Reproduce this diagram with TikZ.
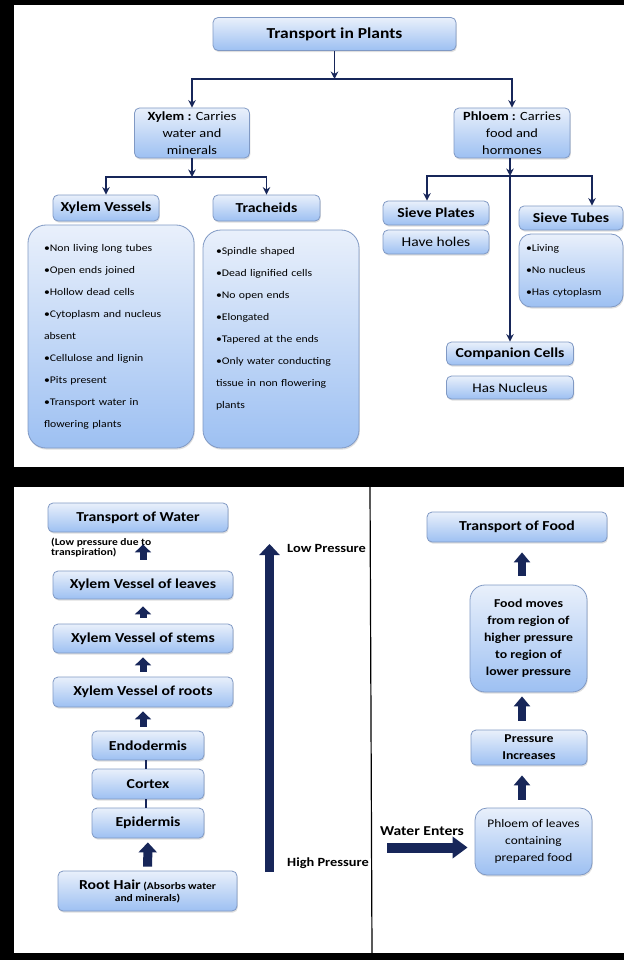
\documentclass[tikz,border=0pt]{standalone}
\usepackage{fontspec}
\setmainfont[FakeStretch=1.15]{Carlito}
\usetikzlibrary{arrows.meta,shadows}

\definecolor{arrowblue}{HTML}{172659}
\definecolor{boxtop}{HTML}{E9F0FB}
\definecolor{boxbot}{HTML}{9DC0F2}
\definecolor{boxline}{HTML}{8099C4}

\tikzset{
  box/.style={draw=boxline, line width=0.8pt, rounded corners=5pt,
    top color=boxtop, bottom color=boxbot, align=center, inner sep=2pt,
    drop shadow={opacity=0.25, shadow xshift=0.8pt, shadow yshift=-1.6pt}},
  listbox/.style={box, rounded corners=18pt, align=left},
  hd/.style={font=\bfseries\fontsize{13.7}{16}\selectfont},
  small/.style={font=\fontsize{12.5}{17}\selectfont},
  items/.style={font=\fontsize{10.2}{22}\selectfont},
  link/.style={draw=arrowblue, line width=1.7pt, -{Stealth[length=7.5pt,width=7.5pt]}},
  blk/.style={draw=arrowblue, line width=7pt, -{Triangle[length=8pt,width=16pt]}},
  rootblk/.style={draw=arrowblue, line width=9pt, -{Triangle[length=10pt,width=18pt]}},
  rblk/.style={draw=arrowblue, line width=8pt, -{Triangle[length=10pt,width=16pt]}},
  lbl/.style={font=\bfseries\fontsize{12.5}{14}\selectfont, inner sep=0pt}
}

\begin{document}
\begin{tikzpicture}[x=1pt,y=-1pt]
  % panels
  \fill[black] (0,0) rectangle (624,960);
  \fill[white] (14,5) rectangle (624,467);
  \fill[white] (14,487) rectangle (624,953);
  \draw[black, line width=1.2pt] (370,487) -- (372,953);

  % top tree
  \node[box, minimum width=243pt, minimum height=33pt, font=\bfseries\fontsize{15.2}{18}\selectfont] (tip) at (334.5,34) {Transport in Plants};
  \node[box, small, minimum width=115pt, minimum height=50pt] (xylem) at (192,133) {\textbf{Xylem :} Carries\\water and\\minerals};
  \node[box, small, minimum width=116pt, minimum height=50pt] (phloem) at (512,133) {\textbf{Phloem :} Carries\\food and\\hormones};
  \coordinate (split) at (334.5,79);
  \draw[link] (tip) -- (split);
  \draw[link] (split) -| (xylem);
  \draw[link] (split) -| (phloem);

  \node[box, hd, minimum width=106pt, minimum height=26pt] (xvhead) at (106,208) {Xylem Vessels};
  \node[box, hd, minimum width=107pt, minimum height=26pt] (trhead) at (266.5,208) {Tracheids};
  \coordinate (xsplit) at (192,177);
  \draw[link] (xylem) -- (xsplit);
  \draw[link] (xsplit) -| (xvhead);
  \draw[link] (xsplit) -| (trhead);

  \node[listbox, items, minimum width=166pt, minimum height=223pt, text width=134pt] (xvlist) at (111,336.5)
    {•Non living long tubes\\ •Open ends joined\\ •Hollow dead cells\\ •Cytoplasm and nucleus\\ absent\\ •Cellulose and lignin\\ •Pits present\\ •Transport water in\\ flowering plants};
  \node[listbox, items, minimum width=156pt, minimum height=218pt, text width=130pt] (trlist) at (281,339)
    {•Spindle shaped\\ •Dead lignified cells\\ •No open ends\\ •Elongated\\ •Tapered at the ends\\ •Only water conducting\\ tissue in non flowering\\ plants\\ \mbox{}};

  \node[box, hd, minimum width=106pt, minimum height=24pt] (sphead) at (436,213) {Sieve Plates};
  \node[box, font=\fontsize{13.5}{16}\selectfont, minimum width=106pt, minimum height=24pt] (spholes) at (436,242) {Have holes};
  \node[box, hd, minimum width=104pt, minimum height=24pt] (sthead) at (571,218) {Sieve Tubes};
  \node[listbox, items, rounded corners=12pt, minimum width=104pt, minimum height=73pt, text width=90pt] (stlist) at (571,270.5)
    {•Living\\ •No nucleus\\ •Has cytoplasm};
  \node[box, hd, minimum width=127pt, minimum height=23pt] (cchead) at (510,353.5) {Companion Cells};
  \node[box, font=\fontsize{13.2}{16}\selectfont, minimum width=127pt, minimum height=23pt] (ccnuc) at (510,387.5) {Has Nucleus};
  \coordinate (psplit) at (510,176);
  \draw[link] (phloem.south -| psplit) -- (psplit);
  \draw[link] (psplit) -| ([xshift=-9pt]sphead.north);
  \draw[link] (psplit) -| ([xshift=21pt]sthead.north);
  \draw[link] (psplit) -- (cchead);

  % transport of water
  \coordinate (lx) at (143,0);
  \node[box, hd, minimum width=180pt, minimum height=29pt] (tow) at (138,517.5) {Transport of Water};
  \node[font=\bfseries\fontsize{10}{10.5}\selectfont, align=left, anchor=north west, inner sep=0pt] (lpnote) at (51,537.5) {(Low pressure due to\\transpiration)};
  \node[box, hd, minimum width=180pt, minimum height=28pt] (xvl) at (143,585) {Xylem Vessel of leaves};
  \node[box, hd, minimum width=180pt, minimum height=29pt] (xvs) at (143,638.5) {Xylem Vessel of stems};
  \node[box, hd, minimum width=180pt, minimum height=30pt] (xvr) at (143,692) {Xylem Vessel of roots};
  \node[box, hd, minimum width=112pt, minimum height=29pt] (endo) at (148,745.5) {Endodermis};
  \node[box, hd, minimum width=112pt, minimum height=30pt] (cortex) at (148,784) {Cortex};
  \node[box, hd, minimum width=112pt, minimum height=30pt] (epi) at (148,823) {Epidermis};
  \node[box, font=\bfseries, minimum width=179pt, minimum height=40pt] (roothair) at (147.5,891)
    {{\fontsize{13.7}{16}\selectfont Root Hair} {\fontsize{10}{13}\selectfont (Absorbs water}\\{\fontsize{10}{13}\selectfont and minerals)}};

  \draw[blk, shorten <=11pt, shorten >=12pt] (xvl.north -| lx) -- (tow.south -| lx);
  \draw[blk, shorten <=6pt, shorten >=7pt] (xvs.north -| lx) -- (xvl.south -| lx);
  \draw[blk, shorten <=5pt, shorten >=4pt] (xvr.north -| lx) -- (xvs.south -| lx);
  \draw[blk, shorten <=4pt, shorten >=4pt] (endo.north -| lx) -- (xvr.south -| lx);
  \draw[arrowblue, line width=1.6pt] ([xshift=-2pt]endo.south) -- ([xshift=-2pt]cortex.north);
  \draw[arrowblue, line width=1.6pt] ([xshift=-2pt]cortex.south) -- ([xshift=-2pt]epi.north);
  \draw[rootblk, shorten <=4pt, shorten >=4pt] (roothair) -- (epi);

  \node[lbl, anchor=west] (lowp) at (287,548) {Low Pressure};
  \node[lbl, anchor=west] (highp) at (287,863) {High Pressure};
  \coordinate (hpend) at (269.5,872);
  \coordinate (lpend) at (269.5,544);
  \draw[draw=arrowblue, line width=9pt, -{Triangle[length=11pt,width=20pt]}] (hpend) -- (lpend);

  % transport of food
  \coordinate (ax) at (522,0);
  \node[box, hd, minimum width=180pt, minimum height=30pt] (tof) at (517,527) {Transport of Food};
  \node[box, rounded corners=15pt, font=\bfseries\fontsize{12}{17}\selectfont, minimum width=117pt, minimum height=107pt] (food) at (528.5,638.5)
    {Food moves\\from region of\\higher pressure\\to region of\\lower pressure};
  \node[box, font=\bfseries\fontsize{12}{17}\selectfont, minimum width=116pt, minimum height=35pt] (press) at (529,747.5) {Pressure\\Increases};
  \node[box, rounded corners=12pt, font=\fontsize{11.6}{17}\selectfont, minimum width=117pt, minimum height=67pt] (pol) at (533.5,841.5)
    {Phloem of leaves\\containing\\prepared food};
  \draw[rblk, shorten <=9pt, shorten >=10pt] (food.north -| ax) -- (tof.south -| ax);
  \draw[rblk, shorten <=9pt, shorten >=4pt] (press.north -| ax) -- (food.south -| ax);
  \draw[rblk, shorten <=8pt, shorten >=10pt] (pol.north -| ax) -- (press.south -| ax);
  \node[font=\bfseries\fontsize{13.6}{16}\selectfont, inner sep=0pt] (water) at (422,831) {Water Enters};
  \coordinate (wstart) at (387,847.5);
  \draw[draw=arrowblue, line width=10pt, -{Triangle[length=15pt,width=21pt]}, shorten >=7pt] (wstart) -- (pol.west |- wstart);
\end{tikzpicture}
\end{document}
